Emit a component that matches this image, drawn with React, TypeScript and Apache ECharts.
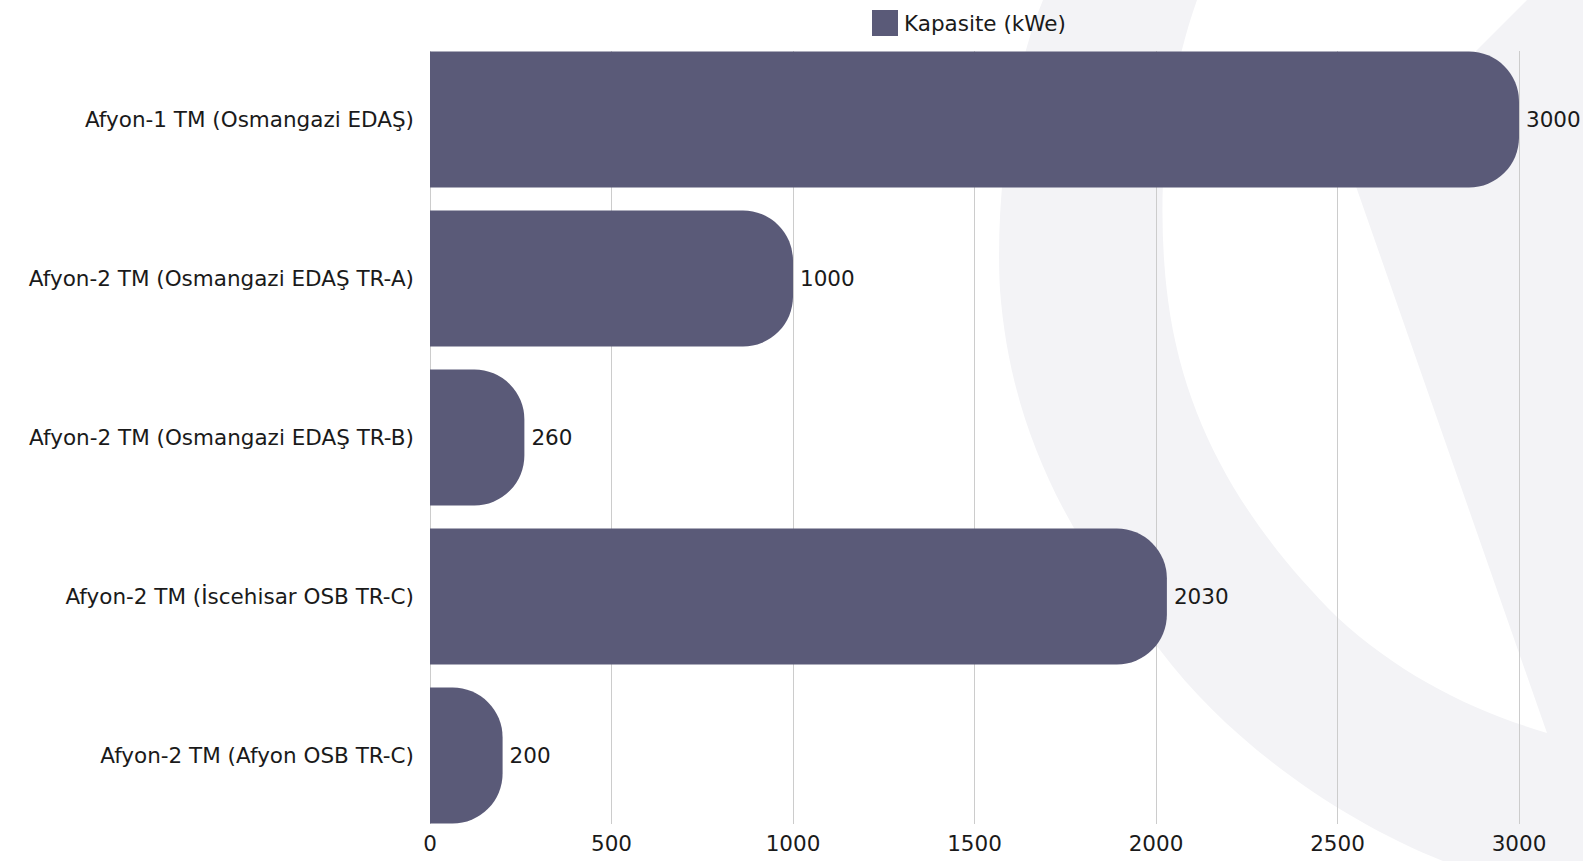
import React, { useEffect, useRef } from "react";
import * as echarts from "echarts";

const categories = [
  "Afyon-1 TM (Osmangazi EDAŞ)",
  "Afyon-2 TM (Osmangazi EDAŞ TR-A)",
  "Afyon-2 TM (Osmangazi EDAŞ TR-B)",
  "Afyon-2 TM (İscehisar OSB TR-C)",
  "Afyon-2 TM (Afyon OSB TR-C)",
];
const capacityValues = [3000, 1000, 260, 2030, 200];
const seriesName = "Kapasite (kWe)";
const xTicks = { min: 0, max: 3000, interval: 500 };

const FONT = "'DejaVu Sans', 'Open Sans', sans-serif";
const FS = 21.5;
const BAR_COLOR = "#5a5a78";
const TEXT_COLOR = "#1a1a1a";
const WATERMARK = "#f3f3f6";

const outerPath =
  "M1043 0 C1010 80 995 200 1000 290 C1010 420 1060 530 1160 650 C1230 743 1340 820 1443 861 L1583 861 L1583 0 Z";
const leafPath =
  "M1197 0 C1165 90 1155 200 1168 300 C1185 430 1250 530 1337 617 C1400 675 1470 710 1547 733 L1352 175 L1527 0 Z";

let registered = false;
function registerShapes() {
  if (registered) return;
  echarts.graphic.registerShape("wmOuter", echarts.graphic.extendPath(outerPath, {}));
  echarts.graphic.registerShape("wmLeaf", echarts.graphic.extendPath(leafPath, {}));
  registered = true;
}

export default function App() {
  const ref = useRef<HTMLDivElement>(null);
  useEffect(() => {
    if (!ref.current) return;
    registerShapes();
    const chart = echarts.init(ref.current, undefined, { renderer: "svg" });
    chart.setOption({
      animation: false,
      backgroundColor: "#ffffff",
      textStyle: { fontFamily: FONT },
      graphic: [
        { type: "wmOuter", x: 0, y: 0, z: -10, silent: true, style: { fill: WATERMARK } },
        { type: "wmLeaf", x: 0, y: 0, z: -9, silent: true, style: { fill: "#ffffff" } },
      ],
      legend: {
        data: [{ name: seriesName, icon: "rect" }],
        left: 872,
        top: 10,
        padding: 0,
        itemWidth: 26,
        itemHeight: 26,
        itemStyle: { borderRadius: 0 },
        textStyle: { fontSize: FS, color: TEXT_COLOR, fontFamily: FONT, padding: [0, 0, 0, 1] },
      },
      grid: [
        { left: 430, right: 64, top: 40, bottom: 26 },
        { left: 430, right: 64, top: 51, bottom: 37 },
      ],
      xAxis: [
        { type: "value", gridIndex: 0, min: xTicks.min, max: xTicks.max, interval: xTicks.interval, show: false },
        {
          type: "value",
          gridIndex: 1,
          min: xTicks.min,
          max: xTicks.max,
          interval: xTicks.interval,
          axisLine: { show: false },
          axisTick: { show: false },
          splitLine: { show: true, lineStyle: { color: "#cccccc", width: 1 } },
          axisLabel: {
            fontSize: FS,
            color: TEXT_COLOR,
            fontFamily: FONT,
            margin: 8,
            formatter: (v: number) => String(v),
          },
        },
      ],
      yAxis: [
        {
          type: "category",
          gridIndex: 0,
          data: categories,
          inverse: true,
          axisLine: { show: false },
          axisTick: { show: false },
          splitLine: { show: false },
          axisLabel: { fontSize: FS, color: TEXT_COLOR, fontFamily: FONT, margin: 16 },
        },
        { type: "value", gridIndex: 1, min: 0, max: 1, show: false },
      ],
      series: [
        {
          name: seriesName,
          type: "bar",
          xAxisIndex: 0,
          yAxisIndex: 0,
          data: capacityValues,
          barWidth: 136,
          itemStyle: { color: BAR_COLOR, borderRadius: [0, 50, 50, 0] },
          label: {
            show: true,
            position: "right",
            distance: 7,
            fontSize: FS,
            color: TEXT_COLOR,
            fontFamily: FONT,
          },
        },
      ],
    });
    return () => chart.dispose();
  }, []);
  return (
    <div
      ref={ref}
      style={{ position: "fixed", left: 0, top: 0, width: 1583, height: 861, background: "#fff" }}
    />
  );
}
